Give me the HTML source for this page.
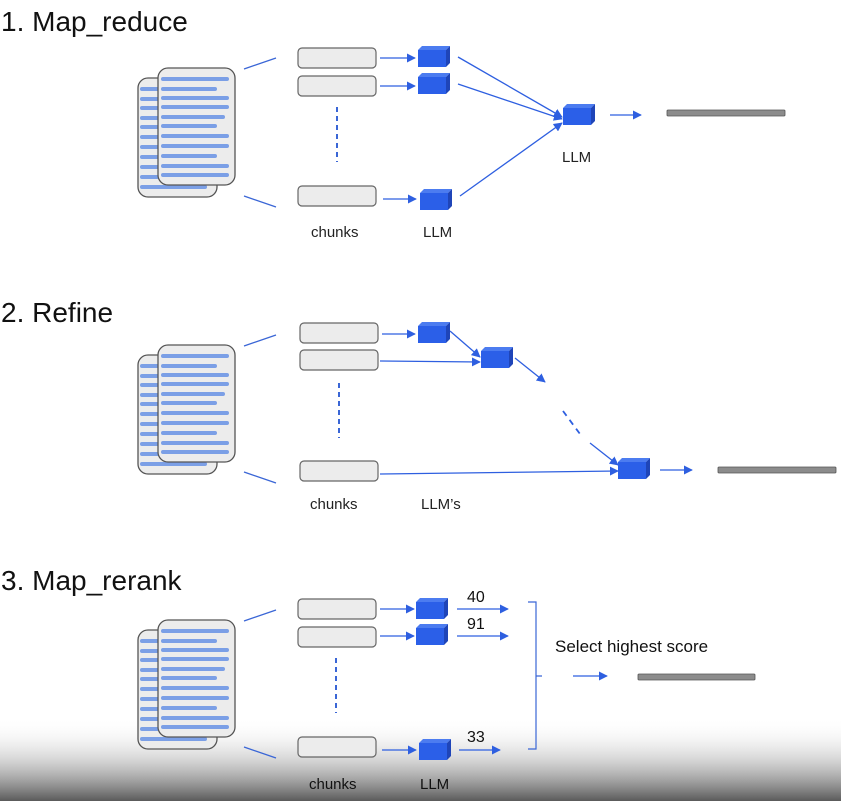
<!DOCTYPE html>
<html><head><meta charset="utf-8"><style>
html,body{margin:0;padding:0;background:#fff;}
svg{display:block;font-family:"Liberation Sans",sans-serif;}
</style></head><body>
<svg width="841" height="801" viewBox="0 0 841 801" xmlns="http://www.w3.org/2000/svg">
<defs>
<linearGradient id="bg" x1="0" y1="0" x2="0" y2="1">
<stop offset="0" stop-color="#fff" stop-opacity="0"/>
<stop offset="1" stop-color="#5a5a5a"/>
</linearGradient>
<marker id="ah" viewBox="0 0 10 10" refX="9" refY="5" markerWidth="9" markerHeight="9" markerUnits="userSpaceOnUse" orient="auto"><path d="M0,0L10,5L0,10z" fill="#2e5fe0"/></marker>
<g id="doc">
<rect x="138" y="355" width="79" height="119" rx="10" fill="#ececec" stroke="#555" stroke-width="1.3"/>
<g stroke="#7b9fe6" stroke-width="4" stroke-linecap="round">
<line x1="142" y1="366" x2="158" y2="366"/><line x1="142" y1="376" x2="158" y2="376"/><line x1="142" y1="385" x2="158" y2="385"/><line x1="142" y1="395" x2="158" y2="395"/><line x1="142" y1="404" x2="158" y2="404"/><line x1="142" y1="414" x2="158" y2="414"/><line x1="142" y1="424" x2="158" y2="424"/><line x1="142" y1="434" x2="158" y2="434"/><line x1="142" y1="444" x2="158" y2="444"/><line x1="142" y1="454" x2="158" y2="454"/><line x1="142" y1="464" x2="205" y2="464"/>
</g>
<rect x="158" y="345" width="77" height="117" rx="10" fill="#ececec" stroke="#555" stroke-width="1.3"/>
<g stroke="#7b9fe6" stroke-width="4" stroke-linecap="round">
<line x1="163" y1="356" x2="227" y2="356"/><line x1="163" y1="366" x2="215" y2="366"/><line x1="163" y1="375" x2="227" y2="375"/><line x1="163" y1="384" x2="227" y2="384"/><line x1="163" y1="394" x2="223" y2="394"/><line x1="163" y1="403" x2="215" y2="403"/><line x1="163" y1="413" x2="227" y2="413"/><line x1="163" y1="423" x2="227" y2="423"/><line x1="163" y1="433" x2="215" y2="433"/><line x1="163" y1="443" x2="227" y2="443"/><line x1="163" y1="452" x2="227" y2="452"/>
</g>
</g>
<g id="cube">
<polygon points="0,4 4,0 32,0 28,4" fill="#4c7cf0"/>
<polygon points="28,4 32,0 32,17 28,21" fill="#1f45b8"/>
<rect x="0" y="4" width="28" height="17" fill="#2b5fe8"/>
</g>
</defs>

<rect x="0" y="718" width="841" height="83" fill="url(#bg)"/>

<g font-size="28" fill="#111">
<text x="1" y="31">1. Map_reduce</text>
<text x="1" y="322">2. Refine</text>
<text x="1" y="590">3. Map_rerank</text>
</g>

<!-- Section 1 -->
<use href="#doc" transform="translate(0,-277)"/>
<g stroke="#3a66d6" stroke-width="1.3"><line x1="244" y1="69" x2="276" y2="58"/><line x1="244" y1="196" x2="276" y2="207"/></g>
<g fill="#ececec" stroke="#666" stroke-width="1.2">
<rect x="298" y="48" width="78" height="20" rx="4"/><rect x="298" y="76" width="78" height="20" rx="4"/><rect x="298" y="186" width="78" height="20" rx="4"/>
</g>
<line x1="337" y1="107" x2="337" y2="162" stroke="#3a66d6" stroke-width="2" stroke-dasharray="5,4"/>
<g stroke="#2e5fe0" stroke-width="1.3" marker-end="url(#ah)">
<line x1="380" y1="58" x2="415" y2="58"/><line x1="380" y1="86" x2="415" y2="86"/><line x1="383" y1="199" x2="416" y2="199"/>
<line x1="458" y1="57" x2="562" y2="117"/><line x1="458" y1="84" x2="562" y2="119"/><line x1="460" y1="196" x2="562" y2="123"/>
<line x1="610" y1="115" x2="641" y2="115"/>
</g>
<use href="#cube" x="418" y="46"/><use href="#cube" x="418" y="73"/><use href="#cube" x="420" y="189"/><use href="#cube" x="563" y="104"/>
<rect x="667" y="110" width="118" height="6" rx="1" fill="#8c8c8c" stroke="#555" stroke-width="0.8"/>
<g font-size="15" fill="#222">
<text x="311" y="237">chunks</text><text x="423" y="237">LLM</text><text x="562" y="162">LLM</text>
</g>

<!-- Section 2 -->
<use href="#doc"/>
<g stroke="#3a66d6" stroke-width="1.3"><line x1="244" y1="346" x2="276" y2="335"/><line x1="244" y1="472" x2="276" y2="483"/></g>
<g fill="#ececec" stroke="#666" stroke-width="1.2">
<rect x="300" y="323" width="78" height="20" rx="4"/><rect x="300" y="350" width="78" height="20" rx="4"/><rect x="300" y="461" width="78" height="20" rx="4"/>
</g>
<line x1="339" y1="383" x2="339" y2="438" stroke="#3a66d6" stroke-width="2" stroke-dasharray="5,4"/>
<g stroke="#2e5fe0" stroke-width="1.3" marker-end="url(#ah)">
<line x1="382" y1="334" x2="415" y2="334"/>
<line x1="450" y1="331" x2="480" y2="357"/>
<line x1="380" y1="361" x2="480" y2="362"/>
<line x1="515" y1="358" x2="545" y2="382"/>
<line x1="590" y1="443" x2="618" y2="465"/>
<line x1="380" y1="474" x2="618" y2="471"/>
<line x1="660" y1="470" x2="692" y2="470"/>
</g>
<line x1="563" y1="411" x2="580" y2="434" stroke="#2e5fe0" stroke-width="1.8" stroke-dasharray="6,5"/>
<use href="#cube" x="418" y="322"/><use href="#cube" x="481" y="347"/><use href="#cube" x="618" y="458"/>
<rect x="718" y="467" width="118" height="6" rx="1" fill="#8c8c8c" stroke="#555" stroke-width="0.8"/>
<g font-size="15" fill="#222">
<text x="310" y="509">chunks</text><text x="421" y="509">LLM’s</text>
</g>

<!-- Section 3 -->
<use href="#doc" transform="translate(0,275)"/>
<g stroke="#3a66d6" stroke-width="1.3"><line x1="244" y1="621" x2="276" y2="610"/><line x1="244" y1="747" x2="276" y2="758"/></g>
<g fill="#ececec" stroke="#666" stroke-width="1.2">
<rect x="298" y="599" width="78" height="20" rx="4"/><rect x="298" y="627" width="78" height="20" rx="4"/><rect x="298" y="737" width="78" height="20" rx="4"/>
</g>
<line x1="336" y1="658" x2="336" y2="713" stroke="#3a66d6" stroke-width="2" stroke-dasharray="5,4"/>
<g stroke="#2e5fe0" stroke-width="1.3" marker-end="url(#ah)">
<line x1="380" y1="609" x2="414" y2="609"/><line x1="380" y1="636" x2="414" y2="636"/><line x1="382" y1="750" x2="416" y2="750"/>
<line x1="457" y1="609" x2="508" y2="609"/><line x1="457" y1="636" x2="508" y2="636"/><line x1="459" y1="750" x2="500" y2="750"/>
<line x1="573" y1="676" x2="607" y2="676"/>
</g>
<use href="#cube" x="416" y="598"/><use href="#cube" x="416" y="624"/><use href="#cube" x="419" y="739"/>
<path d="M528,602 H536 V676 H542 M536,676 V749 H528" fill="none" stroke="#3a66d6" stroke-width="1.2"/>
<rect x="638" y="674" width="117" height="6" rx="1" fill="#8c8c8c" stroke="#555" stroke-width="0.8"/>
<g font-size="16" fill="#111">
<text x="467" y="602">40</text><text x="467" y="629">91</text><text x="467" y="742">33</text>
<text x="555" y="652" font-size="17">Select highest score</text>
</g>
<g font-size="15" fill="#111">
<text x="309" y="789">chunks</text><text x="420" y="789">LLM</text>
</g>
</svg>
</body></html>
